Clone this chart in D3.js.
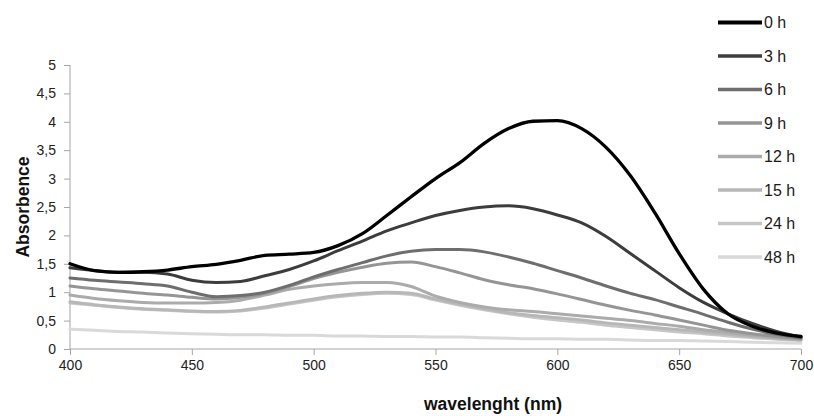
<!DOCTYPE html>
<html>
<head>
<meta charset="utf-8">
<title>Absorbence spectra</title>
<script src="https://d3js.org/d3.v7.min.js"></script>
<style>
	body { margin: 0; background: #fff; }
	svg { font-family: "Liberation Sans", Arial, sans-serif; }
	.axis path, .axis line { stroke: #a6a6a6; }
	.axis text { font-family: "Liberation Sans Narrow", "Arial Narrow", "Liberation Sans", sans-serif; font-size: 14px; fill: #222; }
	.legend text { font-family: "Liberation Sans Narrow", "Arial Narrow", "Liberation Sans", sans-serif; font-size: 16px; fill: #1a1a1a; }
	.series { fill: none; stroke-linejoin: round; stroke-linecap: round; }
</style>
</head>
<body>
<svg width="814" height="416"></svg>
<script>
// wavelengths (nm), one value per series for each
var wavelengths = [400, 410, 420, 430, 440, 450, 460, 470, 480, 490, 500, 510, 520, 530, 540, 550,
	560, 570, 580, 590, 600, 610, 620, 630, 640, 650, 660, 670, 680, 690, 700];

var h0  = [1.50, 1.38, 1.35, 1.36, 1.39, 1.45, 1.49, 1.56, 1.65, 1.67, 1.70, 1.82, 2.03, 2.35, 2.68, 3.00,
	3.28, 3.62, 3.88, 4.01, 4.02, 3.88, 3.55, 3.05, 2.40, 1.68, 1.05, 0.62, 0.40, 0.28, 0.22];
var h3  = [1.43, 1.38, 1.35, 1.35, 1.32, 1.21, 1.17, 1.19, 1.29, 1.40, 1.55, 1.73, 1.90, 2.08, 2.22, 2.35,
	2.44, 2.50, 2.52, 2.47, 2.36, 2.22, 1.98, 1.68, 1.38, 1.08, 0.82, 0.62, 0.45, 0.31, 0.21];
var h6  = [1.25, 1.21, 1.18, 1.15, 1.11, 1.00, 0.92, 0.94, 1.00, 1.12, 1.27, 1.40, 1.52, 1.64, 1.72, 1.75,
	1.75, 1.71, 1.62, 1.51, 1.38, 1.25, 1.11, 0.98, 0.87, 0.74, 0.61, 0.47, 0.35, 0.26, 0.20];
var h9  = [1.11, 1.06, 1.02, 0.98, 0.95, 0.91, 0.88, 0.91, 0.98, 1.10, 1.24, 1.35, 1.44, 1.51, 1.53, 1.45,
	1.34, 1.22, 1.13, 1.06, 0.97, 0.87, 0.77, 0.68, 0.60, 0.51, 0.42, 0.33, 0.27, 0.22, 0.18];
var h12 = [0.95, 0.89, 0.85, 0.82, 0.81, 0.81, 0.82, 0.86, 0.95, 1.05, 1.11, 1.15, 1.17, 1.17, 1.10, 0.93,
	0.82, 0.74, 0.69, 0.66, 0.62, 0.58, 0.54, 0.50, 0.45, 0.40, 0.34, 0.29, 0.24, 0.20, 0.17];
var h15 = [0.83, 0.78, 0.74, 0.71, 0.69, 0.67, 0.66, 0.68, 0.74, 0.81, 0.88, 0.94, 0.98, 1.00, 0.98, 0.88,
	0.79, 0.71, 0.64, 0.59, 0.55, 0.51, 0.46, 0.42, 0.38, 0.34, 0.30, 0.26, 0.22, 0.19, 0.16];
var h24 = [0.81, 0.77, 0.73, 0.70, 0.68, 0.66, 0.65, 0.67, 0.72, 0.79, 0.86, 0.92, 0.96, 0.98, 0.96, 0.86,
	0.77, 0.69, 0.62, 0.56, 0.51, 0.47, 0.42, 0.38, 0.34, 0.30, 0.27, 0.23, 0.20, 0.17, 0.15];
var h48 = [0.35, 0.33, 0.31, 0.30, 0.28, 0.27, 0.26, 0.25, 0.25, 0.24, 0.24, 0.23, 0.23, 0.22, 0.22, 0.21,
	0.21, 0.20, 0.19, 0.18, 0.18, 0.17, 0.17, 0.16, 0.15, 0.15, 0.14, 0.13, 0.12, 0.11, 0.10];

var seriesNames = ["0 h", "3 h", "6 h", "9 h", "12 h", "15 h", "24 h", "48 h"];
var seriesValues = [h0, h3, h6, h9, h12, h15, h24, h48];
var seriesColors = ["#000000", "#3c3c3c", "#6e6e6e", "#959595", "#ababab", "#b7b7b7", "#c6c6c6", "#d9d9d9"];
var seriesWidths = [3.3, 3, 3, 3, 3, 3, 3, 3];

var xTicks = [400, 450, 500, 550, 600, 650, 700];
var yTicks = [0, 0.5, 1, 1.5, 2, 2.5, 3, 3.5, 4, 4.5, 5];

var svg = d3.select("svg");

var x = d3.scaleLinear().domain([400, 700]).range([70, 801]);
var y = d3.scaleLinear().domain([0, 5]).range([349, 65]);

var fmt = function(d) { return String(d).replace(".", ","); };

svg.append("g")
	.attr("class", "axis")
	.attr("transform", "translate(70,0)")
	.call(d3.axisLeft(y).tickValues(yTicks).tickFormat(fmt).tickSize(6).tickPadding(8))
	.call(function(g) { g.select(".domain").attr("d", "M0," + y(5) + "V" + y(0)); });

svg.append("g")
	.attr("class", "axis")
	.attr("transform", "translate(0,349)")
	.call(d3.axisBottom(x).tickValues(xTicks).tickFormat(d3.format("d")).tickSize(6).tickPadding(5))
	.call(function(g) { g.select(".domain").attr("d", "M" + x(400) + ",0H" + x(700)); });

var line = d3.line()
	.x(function(d) { return x(d[0]); })
	.y(function(d) { return y(d[1]); })
	.curve(d3.curveMonotoneX);

// draw lightest first so the dark curves end up on top
for (var i = seriesValues.length - 1; i >= 0; i--) {
	var pts = wavelengths.map(function(w, j) { return [w, seriesValues[i][j]]; });
	svg.append("path")
		.attr("class", "series")
		.attr("d", line(pts))
		.attr("stroke", seriesColors[i])
		.attr("stroke-width", seriesWidths[i]);
}

// legend
var legend = svg.append("g").attr("class", "legend");
seriesNames.forEach(function(name, i) {
	var ly = 22.5 + i * 33.5;
	legend.append("line")
		.attr("x1", 718).attr("x2", 762)
		.attr("y1", ly).attr("y2", ly)
		.attr("stroke", seriesColors[i])
		.attr("stroke-width", seriesWidths[i] + 0.5);
	legend.append("text")
		.attr("x", 764).attr("y", ly)
		.attr("dy", "0.36em")
		.text(name);
});

svg.append("text")
	.attr("transform", "translate(29,207) rotate(-90)")
	.attr("text-anchor", "middle")
	.style("font-size", "17.5px")
	.style("font-weight", "bold")
	.style("fill", "#111")
	.text("Absorbence");

svg.append("text")
	.attr("x", 493).attr("y", 410)
	.attr("text-anchor", "middle")
	.style("font-size", "17.5px")
	.style("font-weight", "bold")
	.style("fill", "#111")
	.text("wavelenght (nm)");
</script>
</body>
</html>
